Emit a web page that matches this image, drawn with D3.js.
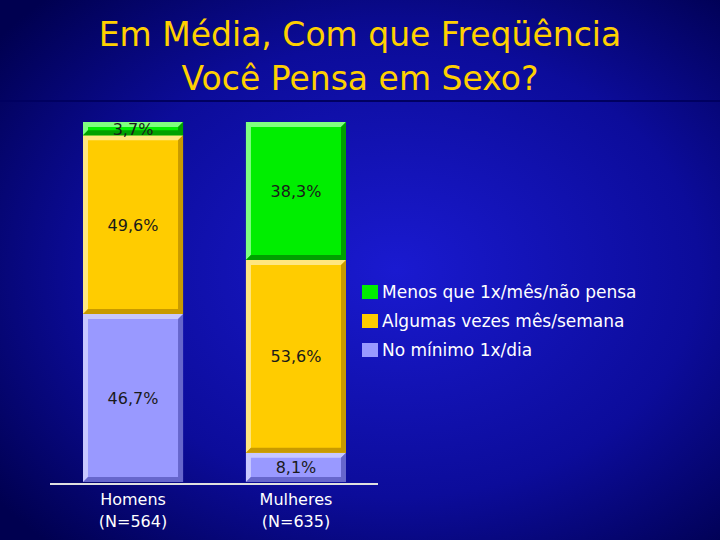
<!DOCTYPE html>
<html><head><meta charset="utf-8">
<script src="https://cdn.jsdelivr.net/npm/d3@7"></script>
<style>body{margin:0;background:#000}svg{display:block}</style>
</head><body>
<script>
var categories = ["Homens\n(N=564)", "Mulheres\n(N=635)"];
var series = ["No mínimo 1x/dia", "Algumas vezes mês/semana", "Menos que 1x/mês/não pensa"];
var values = [[46.7, 8.1], [49.6, 53.6], [3.7, 38.3]];
var labels = [["46,7%", "8,1%"], ["49,6%", "53,6%"], ["3,7%", "38,3%"]];
var colors = ["#9999ff", "#ffcc00", "#00ee00"];
var light = ["#c8c8ff", "#ffe680", "#80ff80"];
var dark = ["#6666cc", "#c89a00", "#00a000"];

var W = 720, H = 540;
var svg = d3.select("body").append("svg").attr("width", W).attr("height", H);
var defs = svg.append("defs");
var g = defs.append("radialGradient").attr("id", "bg").attr("cx", "55%").attr("cy", "50%").attr("r", "70%");
g.append("stop").attr("offset", "0%").attr("stop-color", "#1a1ad0");
g.append("stop").attr("offset", "60%").attr("stop-color", "#0c0c9a");
g.append("stop").attr("offset", "100%").attr("stop-color", "#000050");
svg.append("rect").attr("width", W).attr("height", H).attr("fill", "url(#bg)");

svg.selectAll("text.title").data(["Em Média, Com que Freqüência", "Você Pensa em Sexo?"]).enter()
  .append("text").attr("x", 360).attr("y", function(d, i) { return 46 + i * 44; })
  .attr("text-anchor", "middle").attr("fill", "#ffd000")
  .attr("font-family", "DejaVu Sans").attr("font-size", 33).text(function(d) { return d; });
svg.append("line").attr("x1", 0).attr("x2", W).attr("y1", 101).attr("y2", 101)
  .attr("stroke", "#000060").attr("stroke-width", 2);

var x = d3.scaleBand().domain(categories).range([83, 346]).paddingInner(0.386).paddingOuter(0);
var y = d3.scaleLinear().domain([0, 100]).range([482, 122]);
var bw = x.bandwidth(), b = 5;

categories.forEach(function(c, ci) {
  var base = 0;
  series.forEach(function(s, si) {
    var v = values[si][ci];
    var x0 = x(c), x1 = x0 + bw, yb = y(base), yt = y(base + v);
    var grp = svg.append("g");
    grp.append("rect").attr("x", x0).attr("y", yt).attr("width", bw).attr("height", yb - yt).attr("fill", colors[si]);
    grp.append("polygon").attr("points", [[x0, yt], [x1, yt], [x1 - b, yt + b], [x0 + b, yt + b], [x0 + b, yb - b], [x0, yb]].join(" ")).attr("fill", light[si]);
    grp.append("polygon").attr("points", [[x1, yt], [x1, yb], [x0, yb], [x0 + b, yb - b], [x1 - b, yb - b], [x1 - b, yt + b]].join(" ")).attr("fill", dark[si]);
    grp.append("text").attr("x", x0 + bw / 2).attr("y", (yb + yt) / 2 + 6)
      .attr("text-anchor", "middle").attr("font-family", "DejaVu Sans").attr("font-size", 16)
      .attr("fill", "#1a1a1a").text(labels[si][ci]);
    base += v;
  });
});

svg.append("line").attr("x1", 50).attr("x2", 378).attr("y1", 484).attr("y2", 484).attr("stroke", "#e0e0e0").attr("stroke-width", 2);
categories.forEach(function(c) {
  var t = svg.append("text").attr("text-anchor", "middle").attr("font-family", "DejaVu Sans")
    .attr("font-size", 16).attr("fill", "#ffffff");
  c.split("\n").forEach(function(line, i) {
    t.append("tspan").attr("x", x(c) + bw / 2).attr("y", 505 + i * 22).text(line);
  });
});

var leg = series.slice().reverse();
var legC = colors.slice().reverse();
leg.forEach(function(s, i) {
  svg.append("rect").attr("x", 362).attr("y", 285 + i * 29).attr("width", 16).attr("height", 14).attr("fill", legC[i]);
  svg.append("text").attr("x", 382).attr("y", 298 + i * 29).attr("font-family", "DejaVu Sans")
    .attr("font-size", 17).attr("fill", "#ffffff").text(s);
});
</script>
</body></html>
